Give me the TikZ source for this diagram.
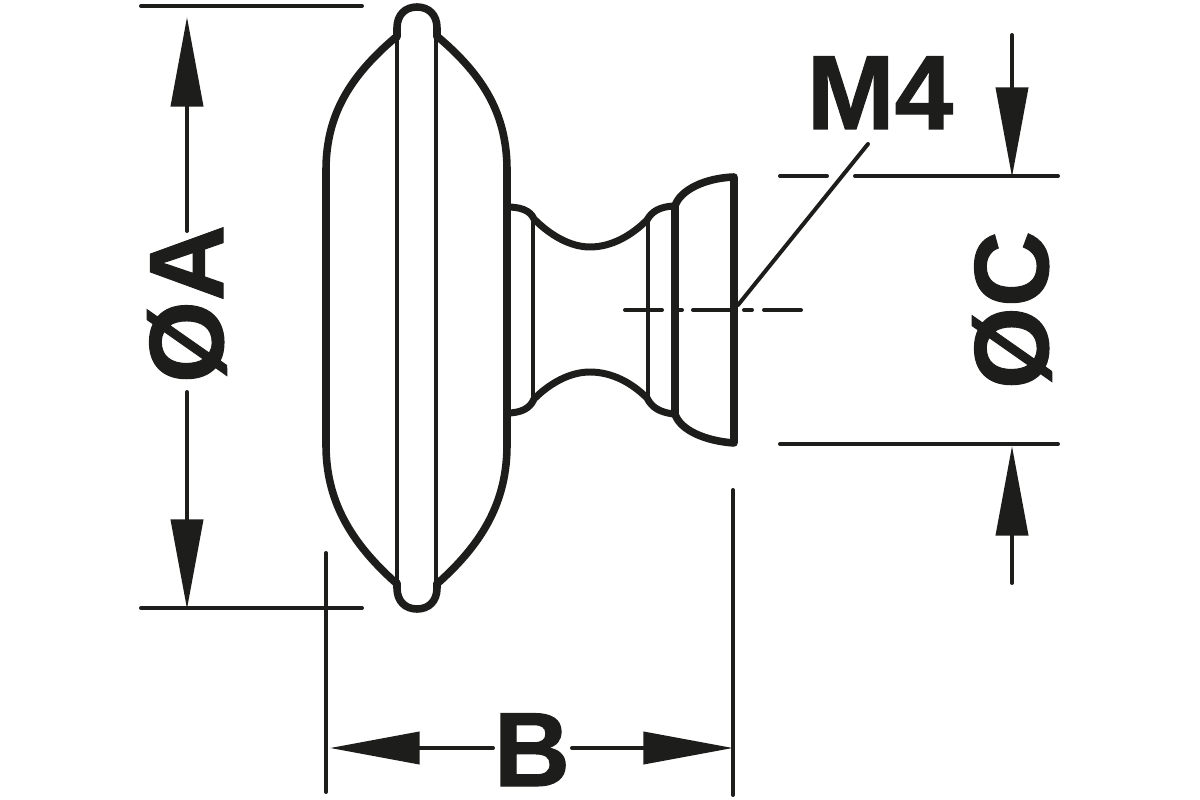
\documentclass[tikz,border=0pt]{standalone}
\usepackage{fontspec}
\newfontfamily\labelfont{Liberation Sans Bold}[FakeBold=1]
\usetikzlibrary{arrows.meta}
\definecolor{ink}{HTML}{1D1D1B}
\tikzset{
  x=0.02cm,y=-0.02cm,
  thick line/.style={draw=ink,line width=7.6*0.567pt,line cap=round,line join=round},
  neck line/.style={draw=ink,line width=7*0.567pt,line cap=round,line join=round},
  thin line/.style={draw=ink,line width=4*0.567pt,line cap=round},
  dim line/.style={draw=ink,line width=4*0.567pt,line cap=round},
  dim arrow/.style={dim line,-{Triangle[length=51pt,width=18.2pt,color=ink]}},
  label text/.style={text=ink,font=\labelfont\fontsize{60}{60}\selectfont,inner sep=0pt,anchor=base},
}
\begin{document}
\begin{tikzpicture}
\useasboundingbox (0,0) rectangle (1200,800);
% knob head
\draw[thick line] (396,37) .. controls (350,76) and (326,115) .. (326,170) -- (326,445)
  .. controls (326,500) and (350,542) .. (396,583);
\draw[thick line] (438,37) .. controls (484,76) and (507,115) .. (507,170) -- (507,445)
  .. controls (507,500) and (484,542) .. (438,583);
\draw[thick line] (397,37) -- (397,28) .. controls (397,15) and (405,7) .. (417,7)
  .. controls (429,7) and (437,15) .. (437,28) -- (437,37);
\draw[thick line] (397,583) -- (397,588) .. controls (397,601) and (405,609) .. (417,609)
  .. controls (429,609) and (437,601) .. (437,588) -- (437,583);
\draw[thin line] (397,38) -- (397,581);
\draw[thin line] (436,38) -- (436,581);
% neck
\draw[neck line] (507,207) .. controls (520,207) and (530,210) .. (534,219)
  .. controls (550,235) and (570,247) .. (590,247)
  .. controls (612,247) and (632,235) .. (647,220)
  .. controls (652,211) and (660,207) .. (673,206);
\draw[neck line] (507,413) .. controls (520,413) and (530,409) .. (534,399)
  .. controls (550,383) and (570,372) .. (590,372)
  .. controls (612,372) and (632,383) .. (647,398)
  .. controls (652,408) and (660,412) .. (673,414);
\draw[thin line] (533,222) -- (533,396);
\draw[thin line] (648,222) -- (648,396);
% cap
\draw[thick line] (675,206) .. controls (680,190) and (705,178) .. (734,177) -- (734,443)
  .. controls (705,441) and (680,430) .. (675,414) -- cycle;
% centre line
\coordinate (cl1) at (625,310);
\coordinate (cl2) at (662,310);
\coordinate (cl3) at (679,310);
\coordinate (cl4) at (682,310);
\coordinate (cl5) at (693,310);
\coordinate (cl6) at (733,310);
\coordinate (cl7) at (744,310);
\coordinate (cl8) at (752,310);
\coordinate (cl9) at (764,310);
\coordinate (cl10) at (801,310);
\draw[dim line] (cl1) -- (cl2);
\draw[dim line] (cl3) -- (cl4);
\draw[dim line] (cl5) -- (cl6);
\draw[dim line] (cl7) -- (cl8);
\draw[dim line] (cl9) -- (cl10);
% labels
\node[label text,rotate=90] (dA) at (223,304) {ØA};
\node[label text,rotate=90] (dC) at (1048,310) {ØC};
\node[label text] (lB) at (532,786) {B};
\node[label text] (lM) at (880,129) {M4};
% A dimension
\coordinate (a1) at (141,6);
\coordinate (a2) at (362,6);
\coordinate (a3) at (141,608);
\coordinate (a4) at (362,608);
\coordinate (atop) at (187,17);
\coordinate (abot) at (187,609);
\coordinate (as) at (187,231);
\coordinate (ae) at (187,392);
\draw[dim line] (a1) -- (a2);
\draw[dim line] (a3) -- (a4);
\draw[dim arrow] (as) -- (atop);
\draw[dim arrow] (ae) -- (abot);
% B dimension
\coordinate (b1) at (326,553);
\coordinate (b2) at (326,792);
\coordinate (b3) at (733,490);
\coordinate (b4) at (733,795);
\coordinate (bs) at (493,748);
\coordinate (be) at (572,748);
\coordinate (bl) at (330,748);
\coordinate (br) at (733,748);
\draw[dim line] (b1) -- (b2);
\draw[dim line] (b3) -- (b4);
\draw[dim arrow] (bs) -- (bl);
\draw[dim arrow] (be) -- (br);
% C dimension
\coordinate (c1) at (780,176);
\coordinate (c2) at (827,176);
\coordinate (c3) at (855,176);
\coordinate (c4) at (1058,176);
\coordinate (c5) at (780,444);
\coordinate (c6) at (1058,444);
\draw[dim line] (c1) -- (c2);
\draw[dim line] (c3) -- (c4);
\draw[dim line] (c5) -- (c6);
\coordinate (cs) at (1012,35);
\coordinate (ct) at (1012,177);
\coordinate (ce) at (1012,583);
\coordinate (cb) at (1012,446);
\draw[dim arrow] (cs) -- (ct);
\draw[dim arrow] (ce) -- (cb);
% M4 leader
\coordinate (m1) at (868,144);
\coordinate (m2) at (738,305);
\draw[dim line] (m1) -- (m2);
\end{tikzpicture}
\end{document}
